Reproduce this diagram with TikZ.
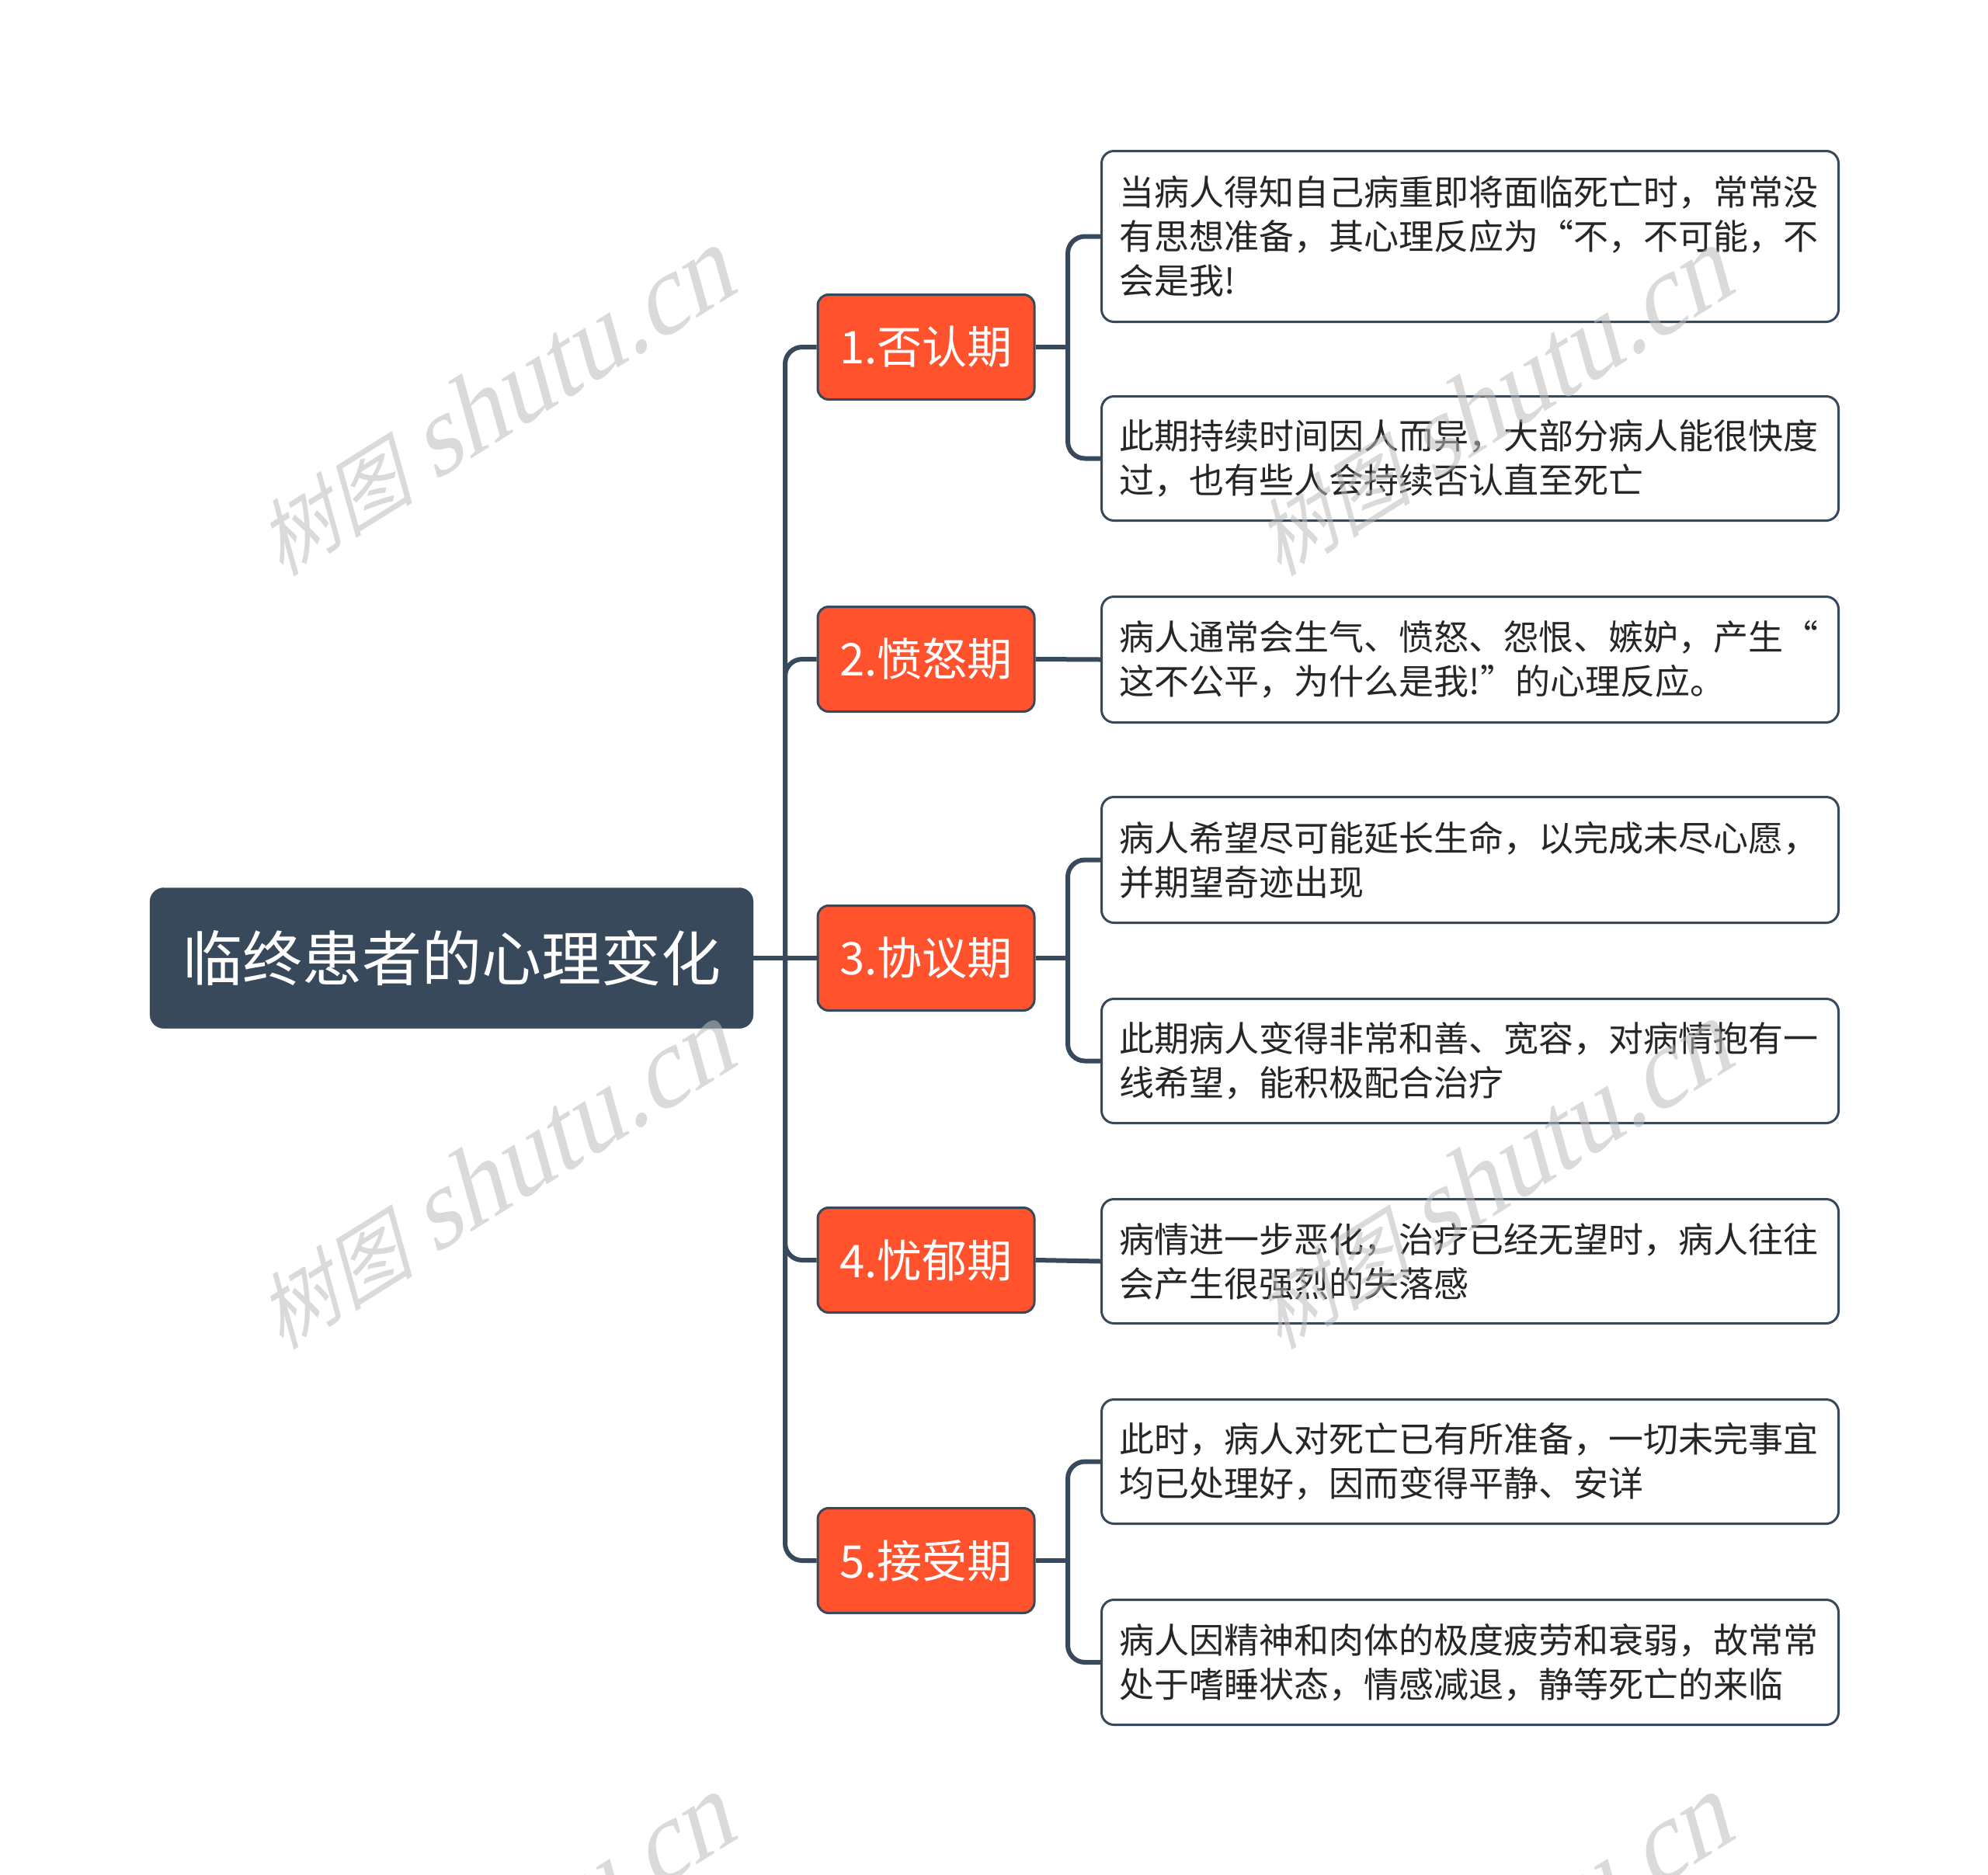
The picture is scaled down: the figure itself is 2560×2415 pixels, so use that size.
\documentclass[tikz,border=0pt]{standalone}
\usepackage{fontspec}
\setmainfont{Noto Sans CJK SC}
\newfontfamily\wmlatin{Liberation Serif}
\definecolor{dark}{HTML}{37495A}
\definecolor{orng}{HTML}{FF522D}
\definecolor{wm}{HTML}{BDBDBD}
\definecolor{leaftext}{HTML}{262626}
\pgfdeclarelayer{bg}
\pgfdeclarelayer{conns}
\pgfsetlayers{bg,conns,main}
\tikzset{
 rootbox/.style={fill=dark, draw=dark, rounded corners=18pt, text=white, font=\fontsize{77}{90}\selectfont, minimum width=777pt, minimum height=181pt, inner sep=0pt},
 topic/.style={fill=orng, draw=dark, line width=3pt, rounded corners=14pt, text=white, font=\fontsize{58}{70}\selectfont, minimum width=279pt, minimum height=135pt, inner sep=0pt},
 leaf/.style={fill=white, draw=dark, line width=3pt, rounded corners=16pt, text=leaftext, font=\fontsize{45}{57}\selectfont, text width=903pt, inner xsep=23pt, inner ysep=0pt, minimum height=#1, align=left, anchor=north west},
 conn/.style={draw=dark, line width=6pt, rounded corners=22pt},
 wmark/.style={text=wm, opacity=0.55, inner sep=0pt, cm={0.848,0.530,-0.29,1.04,(0,0)}}
}
\newcommand{\wmtext}{{\fontsize{102}{102}\selectfont 树图}\hspace{28pt}{\wmlatin\fontsize{138}{138}\selectfont shutu.cn}}
\begin{document}
\begin{tikzpicture}[x=1pt,y=-1pt]
\useasboundingbox (0,0) rectangle (2560,2415);
\clip (0,0) rectangle (2560,2415);
\begin{pgfonlayer}{bg}
\fill[white] (0,0) rectangle (2560,2415);
\end{pgfonlayer}

% junction coordinates
\coordinate (tr) at (1011,1234);
\coordinate (j1) at (1375,447);
\coordinate (j3) at (1375,1234);
\coordinate (j5) at (1375,2010);

% nodes
\node[rootbox] (root) at (581.5,1234) {临终患者的心理变化};
\node[topic] (t1) at (1192.5,447) {1.否认期};
\node[topic] (t2) at (1192.5,849) {2.愤怒期};
\node[topic] (t3) at (1192.5,1234) {3.协议期};
\node[topic] (t4) at (1192.5,1623) {4.忧郁期};
\node[topic] (t5) at (1192.5,2010) {5.接受期};

\node[leaf=220pt] (la) at (1417,193) {当病人得知自己病重即将面临死亡时，常常没\\有思想准备，其心理反应为“不，不可能，不\\会是我!};
\node[leaf=160pt] (lb) at (1417,509) {此期持续时间因人而异，大部分病人能很快度\\过，也有些人会持续否认直至死亡};
\node[leaf=162pt] (lc) at (1417,767) {病人通常会生气、愤怒、怨恨、嫉妒，产生“\\这不公平，为什么是我!”的心理反应。};
\node[leaf=162pt] (ld) at (1417,1025) {病人希望尽可能延长生命，以完成未尽心愿，\\并期望奇迹出现};
\node[leaf=160pt] (le) at (1417,1285) {此期病人变得非常和善、宽容，对病情抱有一\\线希望，能积极配合治疗};
\node[leaf=160pt] (lf) at (1417,1543) {病情进一步恶化，治疗已经无望时，病人往往\\会产生很强烈的失落感};
\node[leaf=160pt] (lg) at (1417,1801) {此时，病人对死亡已有所准备，一切未完事宜\\均已处理好，因而变得平静、安详};
\node[leaf=161pt] (lh) at (1417,2059) {病人因精神和肉体的极度疲劳和衰弱，故常常\\处于嗜睡状态，情感减退，静等死亡的来临};

% connectors
\begin{pgfonlayer}{conns}
\draw[conn] (root.east) -- (t3.west);
\draw[conn] (tr) |- (t1.west);
\draw[conn] (tr) |- (t2.west);
\draw[conn] (tr) |- (t4.west);
\draw[conn] (tr) |- (t5.west);
\draw[conn] (t1.east) -- (j1);
\draw[conn] (j1) |- (la.west);
\draw[conn] (j1) |- (lb.west);
\draw[conn] (t2.east) -- (lc.west);
\draw[conn] (t3.east) -- (j3);
\draw[conn] (j3) |- (ld.west);
\draw[conn] (j3) |- (le.west);
\draw[conn] (t4.east) -- (lf.west);
\draw[conn] (t5.east) -- (j5);
\draw[conn] (j5) |- (lg.west);
\draw[conn] (j5) |- (lh.west);
\end{pgfonlayer}

% watermarks
\begin{scope}[shift={(645,514)}]\node[wmark] (w1) at (0,0) {\wmtext};\end{scope}
\begin{scope}[shift={(645,1510)}]\node[wmark] (w2) at (0,0) {\wmtext};\end{scope}
\begin{scope}[shift={(1930,514)}]\node[wmark] (w3) at (0,0) {\wmtext};\end{scope}
\begin{scope}[shift={(1930,1510)}]\node[wmark] (w4) at (0,0) {\wmtext};\end{scope}
\begin{scope}[shift={(645,2506)}]\node[wmark] (w5) at (0,0) {\wmtext};\end{scope}
\begin{scope}[shift={(1930,2506)}]\node[wmark] (w6) at (0,0) {\wmtext};\end{scope}
\end{tikzpicture}
\end{document}
